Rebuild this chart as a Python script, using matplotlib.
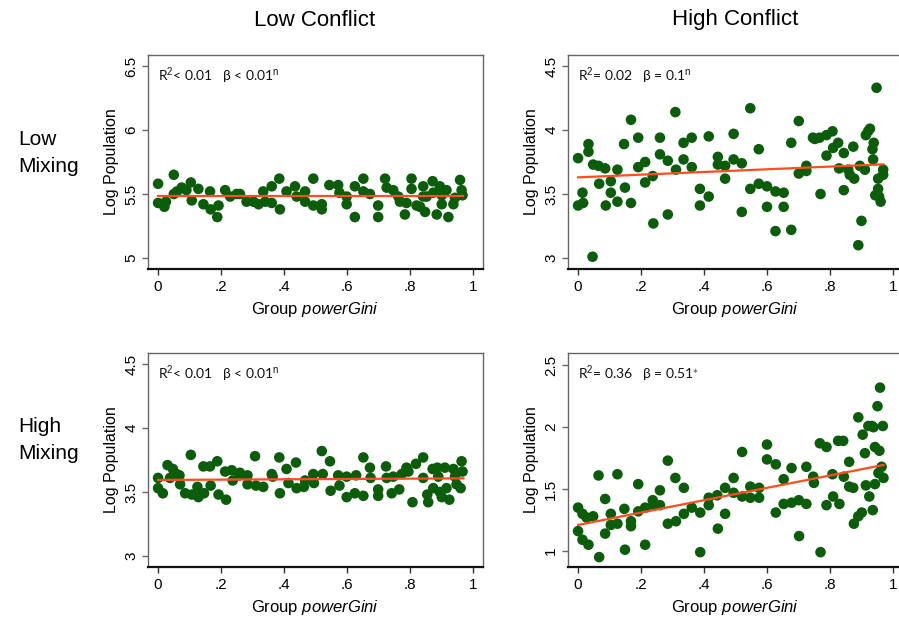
import matplotlib
matplotlib.use("Agg")
import matplotlib.pyplot as plt
import numpy as np

# ---------------- data ----------------
col_titles = ["Low Conflict", "High Conflict"]
row_titles = ["Low\nMixing", "High\nMixing"]
x_ticks = [0, 0.2, 0.4, 0.6, 0.8, 1.0]
x_ticklabels = ["0", ".2", ".4", ".6", ".8", "1"]

# Low mixing / low conflict
lm_lc_x = [0.00, 0.00, 0.02, 0.025, 0.05, 0.05, 0.06, 0.075, 0.09, 0.104, 0.107, 0.128, 0.144, 0.165, 0.167,
           0.188, 0.192, 0.213, 0.229, 0.25, 0.26, 0.281, 0.303, 0.319, 0.334, 0.34, 0.361, 0.361, 0.385, 0.387,
           0.408, 0.435, 0.44, 0.467, 0.467, 0.493, 0.493, 0.52, 0.52, 0.544, 0.572, 0.576, 0.599, 0.599, 0.625,
           0.625, 0.652, 0.652, 0.673, 0.699, 0.699, 0.721, 0.726, 0.747, 0.763, 0.768, 0.784, 0.789, 0.805,
           0.805, 0.821, 0.832, 0.842, 0.848, 0.853, 0.872, 0.874, 0.885, 0.895, 0.901, 0.916, 0.922, 0.938,
           0.959, 0.964, 0.967, 0.943, 0.901, 0.842]
lm_lc_y = [5.58, 5.43, 5.40, 5.44, 5.65, 5.50, 5.52, 5.55, 5.53, 5.59, 5.45, 5.54, 5.42, 5.52, 5.38,
           5.32, 5.41, 5.53, 5.48, 5.50, 5.50, 5.44, 5.44, 5.42, 5.52, 5.44, 5.56, 5.43, 5.62, 5.38,
           5.52, 5.56, 5.48, 5.52, 5.44, 5.62, 5.41, 5.42, 5.38, 5.57, 5.57, 5.51, 5.48, 5.42, 5.56,
           5.32, 5.62, 5.52, 5.50, 5.41, 5.32, 5.62, 5.55, 5.53, 5.48, 5.44, 5.34, 5.43, 5.62,
           5.54, 5.41, 5.40, 5.56, 5.36, 5.48, 5.60, 5.51, 5.34, 5.56, 5.49, 5.53, 5.32, 5.42,
           5.61, 5.53, 5.49, 5.47, 5.42, 5.48]

# Low mixing / high conflict
lm_hc_x = [0.00, 0.00, 0.014, 0.016, 0.033, 0.033, 0.046, 0.048, 0.065, 0.067, 0.086, 0.088, 0.104, 0.104,
           0.125, 0.125, 0.146, 0.149, 0.168, 0.168, 0.191, 0.191, 0.213, 0.213, 0.237, 0.239, 0.260, 0.260,
           0.285, 0.285, 0.309, 0.311, 0.335, 0.335, 0.361, 0.361, 0.387, 0.387, 0.415, 0.415, 0.444, 0.444,
           0.467, 0.467, 0.494, 0.494, 0.520, 0.520, 0.547, 0.547, 0.574, 0.574, 0.600, 0.600, 0.627, 0.627,
           0.653, 0.653, 0.677, 0.677, 0.701, 0.701, 0.725, 0.725, 0.746, 0.752, 0.767, 0.770, 0.789, 0.789,
           0.808, 0.810, 0.826, 0.829, 0.844, 0.844, 0.858, 0.863, 0.874, 0.877, 0.890, 0.895, 0.900, 0.911,
           0.914, 0.921, 0.927, 0.935, 0.939, 0.937, 0.944, 0.948, 0.953, 0.953, 0.956, 0.961, 0.969, 0.969]
lm_hc_y = [3.78, 3.41, 3.51, 3.43, 3.89, 3.83, 3.01, 3.73, 3.72, 3.58, 3.70, 3.41, 3.60, 3.51,
           3.69, 3.44, 3.89, 3.55, 4.08, 3.43, 3.94, 3.71, 3.75, 3.59, 3.64, 3.27, 3.94, 3.81,
           3.76, 3.34, 4.14, 3.69, 3.90, 3.77, 3.94, 3.71, 3.54, 3.41, 3.95, 3.48, 3.79, 3.73,
           3.72, 3.62, 3.97, 3.77, 3.74, 3.36, 4.17, 3.54, 3.85, 3.58, 3.56, 3.40, 3.52, 3.21,
           3.51, 3.40, 3.90, 3.22, 4.07, 3.66, 3.72, 3.68, 3.94, 3.93, 3.94, 3.50, 3.96, 3.80,
           3.99, 3.86, 3.90, 3.70, 3.82, 3.53, 3.69, 3.65, 3.87, 3.62, 3.10, 3.72, 3.29, 3.69,
           3.96, 3.99, 4.01, 3.85, 3.90, 3.77, 3.49, 4.33, 3.62, 3.54, 3.48, 3.44, 3.69, 3.65]

# High mixing / low conflict
hm_lc_x = [0.00, 0.00, 0.015, 0.030, 0.038, 0.047, 0.059, 0.068, 0.070, 0.086, 0.104, 0.107, 0.125, 0.128,
           0.144, 0.146, 0.165, 0.167, 0.188, 0.192, 0.213, 0.216, 0.234, 0.237, 0.258, 0.260, 0.284, 0.284,
           0.308, 0.311, 0.334, 0.361, 0.364, 0.385, 0.387, 0.408, 0.414, 0.438, 0.440, 0.463, 0.467, 0.493,
           0.495, 0.520, 0.523, 0.546, 0.548, 0.572, 0.576, 0.599, 0.599, 0.625, 0.629, 0.652, 0.652, 0.673,
           0.675, 0.699, 0.699, 0.724, 0.726, 0.742, 0.747, 0.766, 0.774, 0.789, 0.795, 0.808, 0.819, 0.842,
           0.842, 0.855, 0.858, 0.872, 0.874, 0.887, 0.890, 0.895, 0.901, 0.911, 0.916, 0.925, 0.938, 0.943,
           0.948, 0.961, 0.964, 0.967]
hm_lc_y = [3.61, 3.53, 3.49, 3.71, 3.61, 3.68, 3.64, 3.63, 3.56, 3.49, 3.79, 3.48, 3.54, 3.46,
           3.70, 3.49, 3.70, 3.55, 3.74, 3.48, 3.66, 3.44, 3.67, 3.59, 3.63, 3.65, 3.63, 3.56,
           3.78, 3.55, 3.54, 3.64, 3.62, 3.77, 3.49, 3.68, 3.57, 3.73, 3.53, 3.54, 3.59, 3.64,
           3.57, 3.82, 3.64, 3.74, 3.51, 3.63, 3.55, 3.62, 3.46, 3.49, 3.63, 3.77, 3.47, 3.69,
           3.61, 3.52, 3.47, 3.70, 3.61, 3.49, 3.62, 3.52, 3.64, 3.69, 3.66, 3.42, 3.72, 3.77,
           3.61, 3.48, 3.42, 3.68, 3.53, 3.69, 3.62, 3.50, 3.46, 3.69, 3.53, 3.44, 3.68, 3.62,
           3.56, 3.53, 3.74, 3.66]

# High mixing / high conflict
hm_hc_x = [0.00, 0.00, 0.014, 0.014, 0.027, 0.033, 0.048, 0.065, 0.067, 0.086, 0.086, 0.104, 0.104, 0.125,
           0.125, 0.147, 0.149, 0.168, 0.168, 0.191, 0.191, 0.213, 0.213, 0.237, 0.239, 0.260, 0.260, 0.285,
           0.285, 0.309, 0.311, 0.336, 0.336, 0.361, 0.388, 0.388, 0.415, 0.415, 0.442, 0.444, 0.467, 0.467,
           0.494, 0.494, 0.521, 0.521, 0.547, 0.547, 0.575, 0.575, 0.600, 0.600, 0.628, 0.628, 0.653, 0.653,
           0.678, 0.678, 0.701, 0.702, 0.725, 0.725, 0.747, 0.749, 0.768, 0.770, 0.789, 0.789, 0.808, 0.810,
           0.826, 0.830, 0.842, 0.844, 0.861, 0.861, 0.874, 0.876, 0.890, 0.890, 0.901, 0.904, 0.911, 0.914,
           0.922, 0.925, 0.933, 0.936, 0.938, 0.943, 0.943, 0.951, 0.954, 0.957, 0.959, 0.964, 0.968, 0.970]
hm_hc_y = [1.35, 1.16, 1.30, 1.09, 1.27, 1.05, 1.28, 1.61, 0.95, 1.42, 1.14, 1.30, 1.21, 1.62,
           1.22, 1.34, 1.01, 1.24, 1.20, 1.54, 1.32, 1.35, 1.05, 1.41, 1.37, 1.49, 1.37, 1.73,
           1.22, 1.59, 1.24, 1.51, 1.30, 1.35, 1.31, 0.99, 1.43, 1.37, 1.45, 1.18, 1.51, 1.30,
           1.59, 1.47, 1.80, 1.44, 1.52, 1.43, 1.51, 1.43, 1.86, 1.74, 1.70, 1.31, 1.58, 1.38,
           1.67, 1.39, 1.41, 1.12, 1.68, 1.38, 1.60, 1.55, 1.87, 0.99, 1.84, 1.37, 1.62, 1.44,
           1.89, 1.38, 1.89, 1.60, 1.72, 1.52, 1.51, 1.22, 2.08, 1.28, 1.31, 1.94, 1.79, 1.53,
           2.01, 1.44, 2.01, 1.33, 2.00, 1.84, 1.54, 2.17, 1.63, 1.81, 2.32, 1.68, 2.01, 1.59]

# fitted lines (intercept, slope)
lm_lc_fit = (5.485, 0.0)
lm_hc_fit = (3.63, 0.105)
hm_lc_fit = (3.594, 0.013)
hm_hc_fit = (1.21, 0.50)
fit_x_end = 0.97

r2_texts = ["< 0.01", "= 0.02", "< 0.01", "= 0.36"]
beta_texts = ["< 0.01", "= 0.1", "< 0.01", "= 0.51"]
sig_marks = ["n", "n", "n", "*"]

y_ticks_list = [[5, 5.5, 6, 6.5], [3, 3.5, 4, 4.5], [3, 3.5, 4, 4.5], [1, 1.5, 2, 2.5]]
y_ticklabels_list = [["5", "5.5", "6", "6.5"], ["3", "3.5", "4", "4.5"],
                     ["3", "3.5", "4", "4.5"], ["1", "1.5", "2", "2.5"]]
y_lims = [(4.914, 6.586), (2.914, 4.586), (2.914, 4.586), (0.87, 2.60)]

xs = [lm_lc_x, lm_hc_x, hm_lc_x, hm_hc_x]
ys = [lm_lc_y, lm_hc_y, hm_lc_y, hm_hc_y]
fits = [lm_lc_fit, lm_hc_fit, hm_lc_fit, hm_hc_fit]

# ---------------- style ----------------
plt.rcParams['font.family'] = ['Liberation Sans', 'DejaVu Sans']
plt.rcParams['mathtext.fontset'] = 'custom'
plt.rcParams['mathtext.rm'] = 'Liberation Sans'
plt.rcParams['mathtext.it'] = 'Liberation Sans:italic'
plt.rcParams['mathtext.bf'] = 'Liberation Sans:bold'

W, H = 899, 623
fig = plt.figure(figsize=(W / 100, H / 100), dpi=100)
fig.patch.set_facecolor('white')

lefts = [148, 568]
tops = [55, 353]
aw, ah = 335, 214

dot_color = '#0b5c0b'
line_color = '#ff4d1f'

for i in range(4):
    r, c = divmod(i, 2)
    l, t = lefts[c], tops[r]
    ax = fig.add_axes([l / W, 1 - (t + ah) / H, aw / W, ah / H])
    ax.scatter(xs[i], ys[i], s=58, color=dot_color, edgecolors='none', zorder=2)
    b0, b1 = fits[i]
    fx = np.array([0.0, fit_x_end])
    ax.plot(fx, b0 + b1 * fx, color=line_color, lw=1.6, zorder=3)
    ax.set_xlim(-0.032, 1.032)
    ax.set_ylim(*y_lims[i])
    ax.set_xticks(x_ticks)
    ax.set_xticklabels(x_ticklabels, fontsize=11)
    ax.set_yticks(y_ticks_list[i])
    ax.set_yticklabels(y_ticklabels_list[i], fontsize=11, rotation=90, va='center')
    for s in ['top', 'right', 'left']:
        ax.spines[s].set_color('#666666')
        ax.spines[s].set_linewidth(1.0)
    ax.spines['bottom'].set_color('#111111')
    ax.spines['bottom'].set_linewidth(1.6)
    ax.tick_params(axis='y', length=4, width=1, color='#666666', pad=3)
    ax.tick_params(axis='x', length=4, width=1, color='#333333', pad=4)
    ax.set_ylabel("Log Population", fontsize=11.5, labelpad=4)
    ax.set_xlabel("Group $\\mathit{powerGini}$", fontsize=12, labelpad=4)
    sig = "\\mathrm{n}" if sig_marks[i] == "n" else "\\ast"
    ann = "R$^{2}$" + r2_texts[i] + "   β " + beta_texts[i] + "$^{" + sig + "}$"
    ax.text(0.03, 0.905, ann, transform=ax.transAxes, fontsize=10,
            va='center', ha='left', family=['Lato', 'DejaVu Sans'], color='#111111')

fig.text(315 / W, 1 - 20 / H, col_titles[0], fontsize=16, ha='center', va='center')
fig.text(735 / W, 1 - 20 / H, col_titles[1], fontsize=16, ha='center', va='center')
fig.text(18 / W, 1 - 153 / H, row_titles[0], fontsize=15, ha='left', va='center', linespacing=1.5)
fig.text(18 / W, 1 - 440 / H, row_titles[1], fontsize=15, ha='left', va='center', linespacing=1.5)

fig.savefig("out.png", dpi=100, facecolor='white')
